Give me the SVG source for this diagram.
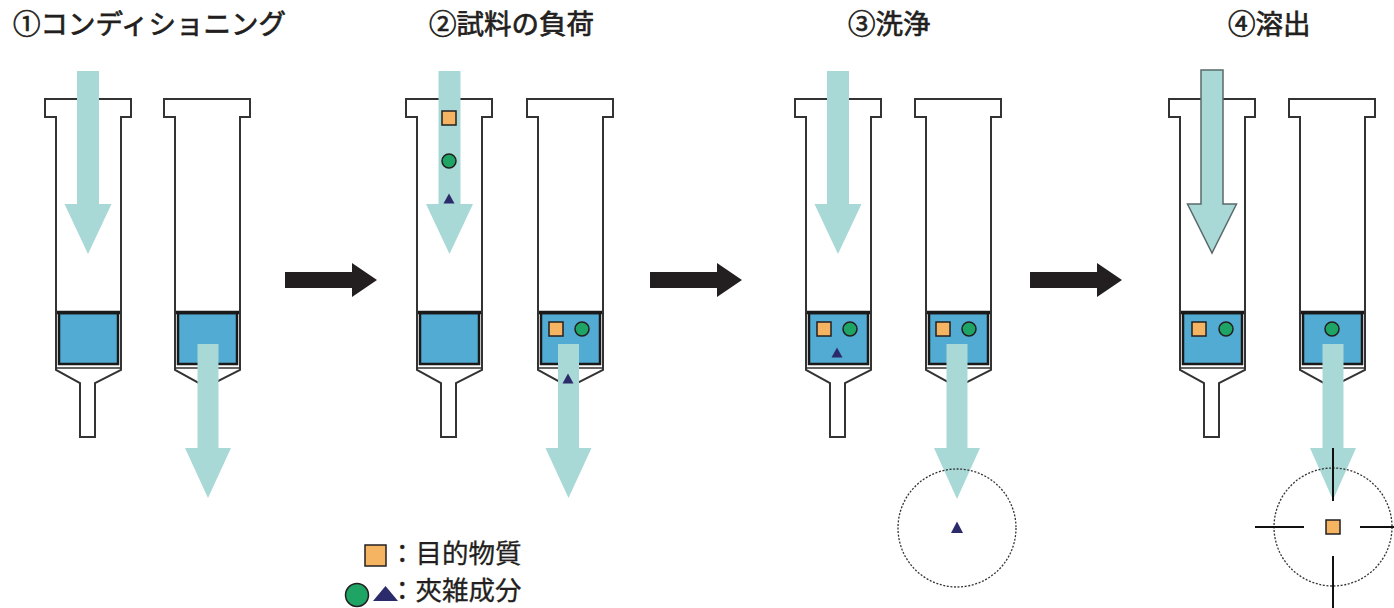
<svg xmlns="http://www.w3.org/2000/svg" xmlns:xlink="http://www.w3.org/1999/xlink" width="1394" height="608" viewBox="0 0 1394 608">
  <style>
    .title { font-family: "Noto Sans CJK JP", "Noto Sans", sans-serif; font-size: 27.5px; fill: #231f20; stroke: #231f20; stroke-width: 0.7; }
    .legend { font-family: "Noto Sans CJK JP", "Noto Sans", sans-serif; font-size: 26.5px; fill: #231f20; stroke: #231f20; stroke-width: 0.3; }
    .body { fill: #ffffff; stroke: #333333; stroke-width: 2; stroke-linejoin: miter; }
    .pack { fill: #52abd3; stroke: #1a1a1a; stroke-width: 2.5; }
    .packtop { stroke: #1a1a1a; stroke-width: 3.5; }
    .frit { stroke: #333333; stroke-width: 1.5; }
    .flow { fill: #a9d9d6; }
    .flow-edge { fill: #a9d9d6; stroke: #5a6a6a; stroke-width: 1.5; }
    .step { fill: #231f20; }
    .target { fill: #f5b461; stroke: #231f20; stroke-width: 1.5; }
    .impurity { fill: #1ea464; stroke: #231f20; stroke-width: 1.5; }
    .tri { fill: #2b2a6b; }
    .ring { fill: none; stroke: #333333; stroke-width: 1.3; stroke-dasharray: 2 1.6; }
    .cross { stroke: #111111; stroke-width: 2; }
  </style>
  <defs>
    <!-- cartridge outline, barrel left edge at x=0 -->
    <g id="cartridge">
      <path class="body" d="M-11,117 V99 H75 V117 H65 V370 L39,383 V437 H24 V383 L0,370 V117 Z"/>
      <rect class="pack" x="3" y="313" width="59" height="51"/>
      <line class="packtop" x1="1" y1="312.5" x2="64" y2="312.5"/>
      <line class="frit" x1="0" y1="368" x2="65" y2="368"/>
    </g>
    <path id="tri-s" d="M0,-5.5 L5.5,4.5 L-5.5,4.5 Z"/>
  </defs>

  <!-- headings -->
  <g id="titles">
    <text class="title" x="13" y="34">①コンディショニング</text>
    <text class="title" x="429" y="34">②試料の負荷</text>
    <text class="title" x="848" y="34">③洗浄</text>
    <text class="title" x="1228" y="34">④溶出</text>
  </g>

  <!-- step 1: conditioning -->
  <g id="step1">
    <use xlink:href="#cartridge" x="56" y="0"/>
    <use xlink:href="#cartridge" x="175" y="0"/>
    <path class="flow" d="M77,71 H99 V204 H111.5 L88,254 L64.5,204 H77 Z"/>
    <path class="flow" d="M197.5,344 H218.5 V448 H231 L208,498 L185,448 H197.5 Z"/>
  </g>

  <!-- step 2: sample loading -->
  <g id="step2">
    <use xlink:href="#cartridge" x="417" y="0"/>
    <use xlink:href="#cartridge" x="538" y="0"/>
    <path class="flow" d="M438.5,71 H460.5 V204 H473 L449.5,254 L426,204 H438.5 Z"/>
    <rect class="target" x="442" y="111" width="14" height="14"/>
    <circle class="impurity" cx="449" cy="161" r="7"/>
    <use xlink:href="#tri-s" class="tri" x="449" y="199"/>
    <rect class="target" x="549" y="322" width="14" height="14"/>
    <circle class="impurity" cx="582" cy="329" r="7"/>
    <path class="flow" d="M558,344 H579 V448 H591.5 L568.5,498 L545.5,448 H558 Z"/>
    <use xlink:href="#tri-s" class="tri" x="568" y="379"/>
  </g>

  <!-- step 3: washing -->
  <g id="step3">
    <use xlink:href="#cartridge" x="806" y="0"/>
    <use xlink:href="#cartridge" x="926" y="0"/>
    <path class="flow" d="M827,71 H849 V204 H861.5 L838,254 L814.5,204 H827 Z"/>
    <rect class="target" x="817" y="322" width="14" height="14"/>
    <circle class="impurity" cx="850" cy="329" r="7"/>
    <use xlink:href="#tri-s" class="tri" x="837" y="353"/>
    <rect class="target" x="936" y="322" width="14" height="14"/>
    <circle class="impurity" cx="969" cy="329" r="7"/>
    <path class="flow" d="M946.5,344 H967.5 V448 H980 L957,499 L934,448 H946.5 Z"/>
    <circle class="ring" cx="957" cy="528" r="59"/>
    <path class="tri" d="M957,521.5 L963,533 L951,533 Z"/>
  </g>

  <!-- step 4: elution -->
  <g id="step4">
    <use xlink:href="#cartridge" x="1180" y="0"/>
    <use xlink:href="#cartridge" x="1300" y="0"/>
    <path class="flow-edge" d="M1201,70 H1223 V204 H1236.5 L1212,253 L1187.5,204 H1201 Z"/>
    <rect class="target" x="1192" y="322" width="14" height="14"/>
    <circle class="impurity" cx="1226" cy="329" r="7"/>
    <circle class="impurity" cx="1332" cy="329" r="7"/>
    <path class="flow" d="M1322.5,344 H1343.5 V448 H1356 L1333,500 L1310,448 H1322.5 Z"/>
    <circle class="ring" cx="1333" cy="527" r="59"/>
    <line class="cross" x1="1333" y1="448" x2="1333" y2="501"/>
    <line class="cross" x1="1333" y1="556" x2="1333" y2="608"/>
    <line class="cross" x1="1255" y1="527" x2="1304" y2="527"/>
    <line class="cross" x1="1360" y1="527" x2="1394" y2="527"/>
    <rect class="target" x="1326" y="520" width="14" height="14"/>
  </g>

  <!-- arrows between steps -->
  <g id="connectors">
    <path class="step" d="M285,272 H352 V263 L377,280 L352,297 V288 H285 Z"/>
    <path class="step" d="M650,272 H717 V263 L742,280 L717,297 V288 H650 Z"/>
    <path class="step" d="M1030,272 H1097 V263 L1122,280 L1097,297 V288 H1030 Z"/>
  </g>

  <!-- key -->
  <g id="legend">
    <rect class="target" x="365" y="545" width="21" height="21" stroke-width="2"/>
    <text class="legend" x="389" y="563">：目的物質</text>
    <circle class="impurity" cx="357" cy="595" r="11.5"/>
    <path class="tri" d="M385.5,586 L398,601 L373,601 Z"/>
    <text class="legend" x="389" y="600">：夾雑成分</text>
  </g>
</svg>
